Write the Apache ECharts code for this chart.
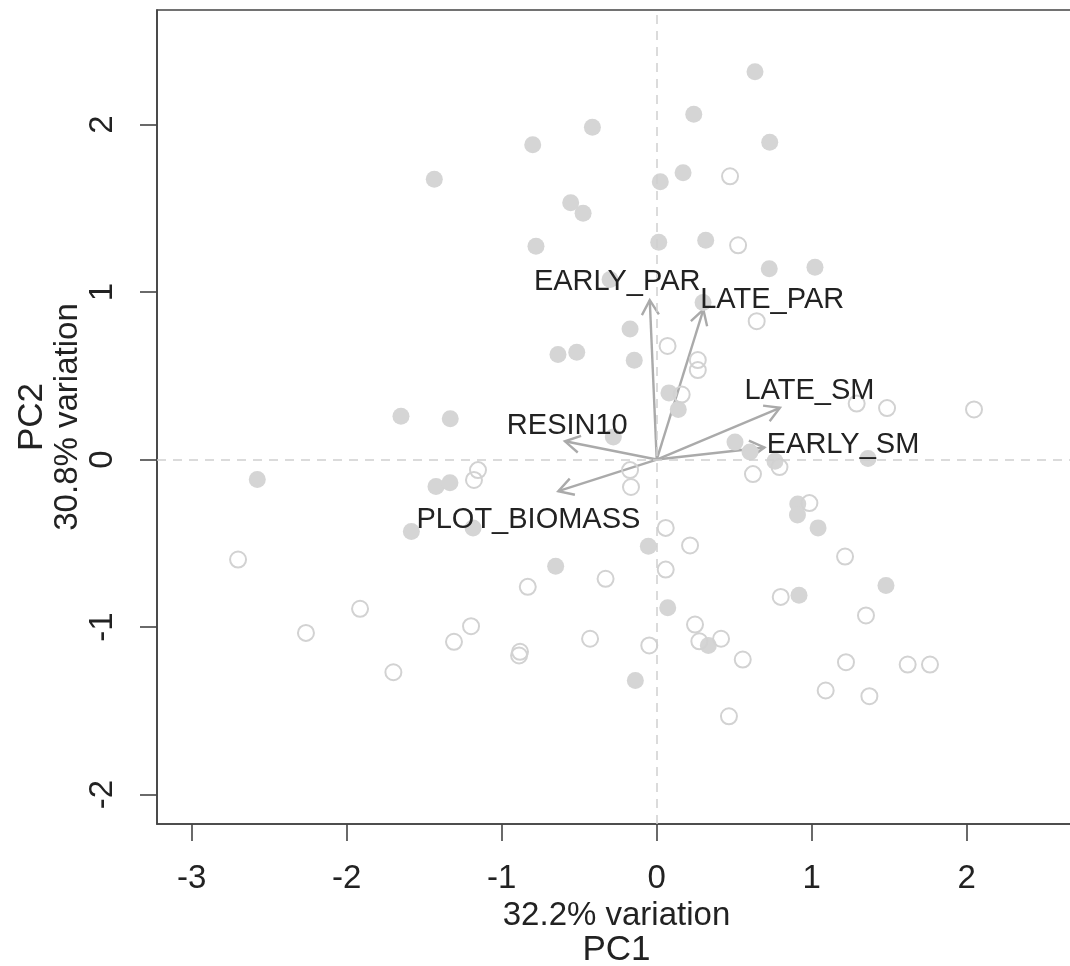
<!DOCTYPE html>
<html>
<head>
<meta charset="utf-8">
<title>PCA biplot</title>
<script src="https://cdn.jsdelivr.net/npm/echarts@6/dist/echarts.min.js"></script>
<style>
html, body { margin: 0; padding: 0; background: #fff; }
#main { width: 1070px; height: 966px; }
</style>
</head>
<body>
<div id="main"></div>
<script>
// sample scores, filled symbols
var filledX = [0.634, 0.239, 0.729, -0.800, -0.415, -1.435, -0.555, -0.475, 0.170, 0.023,
	-0.779, 0.013, 0.316, 0.726, 1.021, -0.301, 0.299, -0.172, -0.637, -0.516,
	-0.145, 0.079, 0.139, -1.650, -1.332, -0.280, 0.505, 0.602, 0.763, 1.363,
	-2.577, -1.424, -1.334, -1.583, -1.185, 0.910, 0.908, 1.041, -0.054, -0.652,
	1.479, 0.918, 0.071, 0.333, -0.138];
var filledY = [2.316, 2.061, 1.894, 1.879, 1.984, 1.673, 1.533, 1.470, 1.712, 1.658,
	1.273, 1.297, 1.309, 1.139, 1.148, 1.075, 0.937, 0.780, 0.627, 0.641,
	0.593, 0.398, 0.299, 0.259, 0.243, 0.134, 0.104, 0.045, -0.010, 0.006,
	-0.119, -0.161, -0.139, -0.430, -0.409, -0.266, -0.331, -0.408, -0.518, -0.637,
	-0.752, -0.810, -0.885, -1.110, -1.319];

// sample scores, open symbols
var openX = [0.473, 0.525, 0.645, 0.070, 0.265, 0.265, 0.161, 1.290, 1.486, 2.047,
	0.792, 0.621, -0.172, -0.166, -1.153, -1.179, 0.985, 0.058, 0.215, 1.215,
	-2.701, -0.832, -0.330, 0.058, 0.800, 1.350, -1.914, -2.263, -1.198, -1.308,
	-0.882, -0.888, -0.430, -1.699, -0.048, 0.247, 0.275, 0.415, 0.555, 1.221,
	1.619, 1.763, 1.090, 1.372, 0.466];
var openY = [1.691, 1.279, 0.826, 0.678, 0.594, 0.534, 0.388, 0.334, 0.307, 0.299,
	-0.045, -0.087, -0.063, -0.164, -0.063, -0.122, -0.260, -0.408, -0.513, -0.579,
	-0.597, -0.760, -0.712, -0.657, -0.820, -0.931, -0.891, -1.035, -0.995, -1.088,
	-1.148, -1.170, -1.070, -1.270, -1.110, -0.985, -1.085, -1.070, -1.194, -1.210,
	-1.224, -1.224, -1.379, -1.413, -1.533];

// loadings (arrow tips) and where their names sit
var loadingNames = ['EARLY_PAR', 'LATE_PAR', 'LATE_SM', 'EARLY_SM', 'RESIN10', 'PLOT_BIOMASS'];
var loadingX = [-0.045, 0.301, 0.795, 0.695, -0.592, -0.635];
var loadingY = [0.952, 0.895, 0.309, 0.072, 0.109, -0.189];
var labelX = [-0.255, 0.745, 0.985, 1.202, -0.577, -0.828];
var labelY = [1.060, 0.951, 0.407, 0.084, 0.203, -0.363];

var xTicks = [-3, -2, -1, 0, 1, 2];
var yTicks = [-2, -1, 0, 1, 2];
var xTitle = '32.2% variation';
var xName = 'PC1';
var yTitle = '30.8% variation';
var yName = 'PC2';

var FONT = '"Liberation Sans", Arial, Helvetica, sans-serif';
var ink = '#222';

function pairs(xs, ys) {
	return xs.map(function(x, i) { return [x, ys[i]]; });
}

var option = {
	animation: false,
	grid: {
		left: 157, right: -6, top: 10, bottom: 142,
		outerBoundsMode: 'none',
		containLabel: false,
		show: true,
		borderColor: '#444',
		borderWidth: 1.6
	},
	xAxis: {
		type: 'value',
		min: -3.224,
		max: 2.705,
		axisLine: { onZero: false, lineStyle: { color: '#444', width: 1.6 } },
		axisTick: { customValues: xTicks, length: 17, lineStyle: { color: '#444', width: 1.6 } },
		axisLabel: { customValues: xTicks, fontSize: 33, color: ink, margin: 38, fontFamily: FONT },
		splitLine: { show: false },
		name: '{a|' + xTitle + '}\n{b|' + xName + '}',
		nameLocation: 'middle',
		nameGap: 75,
		nameMoveOverlap: false,
		nameTextStyle: {
			fontFamily: FONT,
			color: ink,
			rich: {
				a: { fontSize: 33, lineHeight: 34, fontFamily: FONT, color: ink },
				b: { fontSize: 35, lineHeight: 34, fontFamily: FONT, color: ink }
			}
		}
	},
	yAxis: {
		type: 'value',
		min: -2.176,
		max: 2.684,
		axisLine: { onZero: false, lineStyle: { color: '#444', width: 1.6 } },
		axisTick: { customValues: yTicks, length: 17, lineStyle: { color: '#444', width: 1.6 } },
		axisLabel: { customValues: yTicks, fontSize: 33, color: ink, margin: 38, rotate: 90, fontFamily: FONT },
		splitLine: { show: false },
		name: '{b|' + yName + '}\n{a|' + yTitle + '}',
		nameLocation: 'middle',
		nameGap: 71,
		nameMoveOverlap: false,
		nameTextStyle: {
			fontFamily: FONT,
			color: ink,
			rich: {
				a: { fontSize: 33, lineHeight: 36, fontFamily: FONT, color: ink },
				b: { fontSize: 35, lineHeight: 36, fontFamily: FONT, color: ink }
			}
		}
	},
	series: [
		{
			type: 'scatter',
			data: pairs(filledX, filledY),
			symbol: 'circle',
			symbolSize: 17,
			itemStyle: { color: '#d5d5d5', opacity: 1 },
			silent: true
		},
		{
			type: 'scatter',
			data: pairs(openX, openY),
			symbol: 'circle',
			symbolSize: 16,
			itemStyle: { color: 'rgba(0,0,0,0)', borderColor: '#d2d2d2', borderWidth: 2, opacity: 1 },
			silent: true,
			markLine: {
				silent: true,
				symbol: 'none',
				label: { show: false },
				lineStyle: { color: '#cfcfcf', width: 1.5, type: [9, 7] },
				data: [{ xAxis: 0 }, { yAxis: 0 }]
			}
		},
		{
			// loading arrows with open heads
			type: 'custom',
			data: pairs(loadingX, loadingY),
			silent: true,
			renderItem: function(params, api) {
				var o = api.coord([0, 0]);
				var t = api.coord([api.value(0), api.value(1)]);
				var ang = Math.atan2(t[1] - o[1], t[0] - o[0]);
				var len = 17, spread = Math.PI / 6;
				var h1 = [t[0] - len * Math.cos(ang - spread), t[1] - len * Math.sin(ang - spread)];
				var h2 = [t[0] - len * Math.cos(ang + spread), t[1] - len * Math.sin(ang + spread)];
				var st = { stroke: '#aaaaaa', lineWidth: 2.4, fill: null };
				return {
					type: 'group',
					children: [
						{ type: 'line', shape: { x1: o[0], y1: o[1], x2: t[0], y2: t[1] }, style: st },
						{ type: 'polyline', shape: { points: [h1, t, h2] }, style: st }
					]
				};
			}
		},
		{
			// loading names
			type: 'custom',
			data: pairs(labelX, labelY),
			silent: true,
			z: 5,
			renderItem: function(params, api) {
				var p = api.coord([api.value(0), api.value(1)]);
				return {
					type: 'text',
					x: p[0],
					y: p[1],
					style: {
						text: loadingNames[params.dataIndex],
						fill: ink,
						fontSize: 29,
						fontFamily: FONT,
						align: 'center',
						verticalAlign: 'middle'
					}
				};
			}
		}
	]
};

var myChart = echarts.init(document.getElementById('main'), null, { renderer: 'canvas' });
myChart.setOption(option, true);
</script>
</body>
</html>
